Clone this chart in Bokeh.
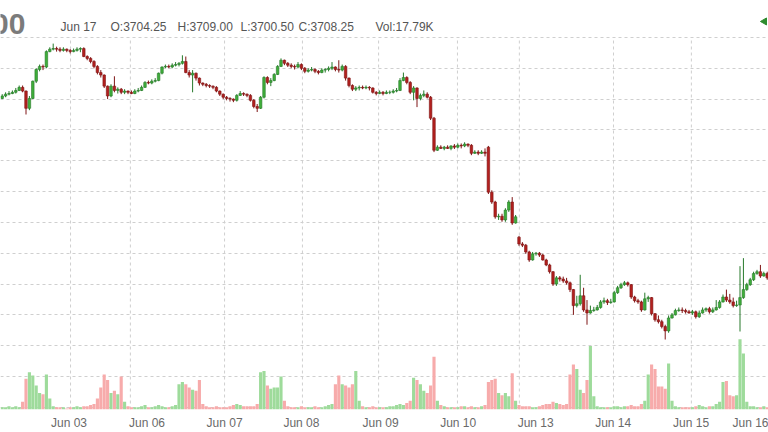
from bokeh.plotting import figure
from bokeh.models import Range1d, FixedTicker, ColumnDataSource
from bokeh.core.properties import value
from bokeh.embed import file_html
from bokeh.resources import INLINE

# Hourly OHLC bars (index = bar number)
opens = [4101, 4105, 4108, 4109, 4111, 4114, 4119, 4113, 4085, 4101,
         4129, 4148, 4153, 4152, 4177, 4181, 4182, 4181, 4179, 4181,
         4179, 4177, 4179, 4181, 4182, 4169, 4166, 4161, 4153, 4143,
         4139, 4121, 4105, 4121, 4114, 4116, 4111, 4113, 4111, 4109,
         4113, 4114, 4119, 4127, 4126, 4129, 4130, 4142, 4152, 4153,
         4152, 4155, 4156, 4158, 4161, 4143, 4139, 4142, 4134, 4126,
         4124, 4122, 4121, 4119, 4113, 4108, 4103, 4101, 4100, 4098,
         4106, 4109, 4108, 4106, 4098, 4088, 4085, 4103, 4135, 4127,
         4130, 4140, 4153, 4163, 4158, 4155, 4153, 4152, 4156, 4150,
         4145, 4147, 4148, 4145, 4143, 4147, 4148, 4150, 4152, 4148,
         4147, 4153, 4134, 4122, 4116, 4118, 4119, 4118, 4119, 4118,
         4111, 4109, 4111, 4109, 4111, 4111, 4113, 4114, 4130, 4135,
         4127, 4111, 4118, 4101, 4106, 4108, 4103, 4069, 4017, 4022,
         4020, 4022, 4020, 4024, 4022, 4025, 4024, 4027, 4025, 4012,
         4014, 4012, 4014, 4022, 3949, 3933, 3909, 3910, 3904, 3920,
         3933, 3899, 3876, 3865, 3863, 3852, 3839, 3849, 3850, 3847,
         3839, 3831, 3820, 3800, 3810, 3808, 3805, 3802, 3791, 3765,
         3768, 3781, 3758, 3753, 3757, 3758, 3762, 3771, 3773, 3770,
         3771, 3786, 3794, 3799, 3802, 3799, 3779, 3773, 3771, 3758,
         3776, 3778, 3752, 3742, 3739, 3731, 3724, 3745, 3750, 3757,
         3758, 3757, 3755, 3753, 3755, 3747, 3753, 3758, 3760, 3755,
         3758, 3762, 3771, 3779, 3774, 3771, 3765, 3766, 3778, 3791,
         3799, 3807, 3817, 3820, 3813, 3817]

highs = [4108, 4111, 4113, 4114, 4118, 4122, 4122, 4114, 4105, 4130,
         4150, 4156, 4156, 4179, 4184, 4190, 4185, 4184, 4184, 4182,
         4181, 4182, 4184, 4184, 4184, 4171, 4168, 4163, 4155, 4147,
         4140, 4122, 4124, 4137, 4119, 4118, 4116, 4114, 4114, 4116,
         4118, 4122, 4129, 4130, 4132, 4134, 4143, 4153, 4156, 4156,
         4158, 4160, 4160, 4171, 4169, 4147, 4147, 4143, 4135, 4127,
         4126, 4124, 4122, 4121, 4114, 4109, 4105, 4103, 4101, 4108,
         4113, 4111, 4109, 4108, 4100, 4092, 4105, 4137, 4137, 4134,
         4142, 4155, 4166, 4164, 4160, 4158, 4156, 4160, 4158, 4152,
         4150, 4152, 4150, 4147, 4150, 4150, 4153, 4160, 4153, 4163,
         4156, 4155, 4135, 4124, 4121, 4122, 4122, 4122, 4121, 4119,
         4113, 4114, 4113, 4114, 4114, 4116, 4118, 4134, 4143, 4137,
         4129, 4121, 4119, 4109, 4114, 4111, 4105, 4071, 4025, 4025,
         4024, 4025, 4025, 4027, 4028, 4028, 4030, 4028, 4027, 4017,
         4017, 4017, 4020, 4024, 3952, 3935, 3914, 3914, 3923, 3936,
         3941, 3912, 3878, 3868, 3865, 3854, 3852, 3852, 3852, 3849,
         3841, 3833, 3821, 3813, 3813, 3812, 3810, 3804, 3792, 3781,
         3815, 3794, 3774, 3765, 3763, 3766, 3774, 3778, 3776, 3776,
         3789, 3797, 3802, 3805, 3804, 3800, 3781, 3776, 3773, 3786,
         3781, 3779, 3753, 3749, 3742, 3734, 3749, 3753, 3760, 3762,
         3762, 3760, 3758, 3758, 3757, 3757, 3762, 3762, 3763, 3762,
         3774, 3774, 3783, 3791, 3784, 3778, 3773, 3829, 3842, 3802,
         3810, 3820, 3823, 3831, 3820, 3820]

lows = [4100, 4103, 4106, 4108, 4109, 4113, 4111, 4075, 4082, 4100,
        4126, 4145, 4147, 4150, 4176, 4179, 4177, 4176, 4177, 4176,
        4174, 4176, 4177, 4176, 4168, 4163, 4158, 4150, 4140, 4135,
        4118, 4100, 4103, 4111, 4109, 4108, 4108, 4108, 4108, 4108,
        4111, 4113, 4118, 4124, 4124, 4127, 4129, 4140, 4150, 4150,
        4150, 4153, 4153, 4156, 4142, 4135, 4111, 4130, 4122, 4121,
        4119, 4118, 4116, 4111, 4105, 4100, 4098, 4096, 4095, 4096,
        4105, 4105, 4103, 4096, 4085, 4079, 4084, 4101, 4124, 4121,
        4129, 4139, 4152, 4155, 4152, 4150, 4148, 4150, 4147, 4142,
        4143, 4145, 4142, 4140, 4142, 4143, 4145, 4147, 4145, 4143,
        4145, 4130, 4119, 4113, 4113, 4114, 4116, 4116, 4114, 4109,
        4106, 4108, 4106, 4108, 4108, 4109, 4111, 4113, 4129, 4124,
        4108, 4098, 4087, 4098, 4103, 4101, 4066, 4014, 4016, 4019,
        4017, 4019, 4017, 4019, 4020, 4020, 4022, 4022, 4009, 4011,
        4009, 4011, 4007, 3946, 3930, 3906, 3904, 3901, 3901, 3917,
        3896, 3898, 3862, 3860, 3849, 3836, 3838, 3846, 3844, 3838,
        3829, 3817, 3797, 3797, 3804, 3802, 3799, 3787, 3750, 3762,
        3765, 3755, 3734, 3752, 3755, 3757, 3760, 3768, 3766, 3768,
        3770, 3784, 3792, 3797, 3796, 3776, 3770, 3768, 3755, 3757,
        3771, 3749, 3739, 3736, 3728, 3710, 3721, 3744, 3749, 3755,
        3753, 3752, 3752, 3750, 3744, 3745, 3752, 3755, 3752, 3753,
        3757, 3760, 3770, 3771, 3768, 3762, 3763, 3723, 3776, 3789,
        3797, 3805, 3815, 3810, 3812, 3807]

closes = [4105, 4108, 4109, 4111, 4114, 4119, 4113, 4085, 4101, 4129,
          4148, 4153, 4152, 4177, 4181, 4182, 4181, 4179, 4181, 4179,
          4177, 4179, 4181, 4182, 4169, 4166, 4161, 4153, 4143, 4139,
          4121, 4105, 4121, 4114, 4116, 4111, 4113, 4111, 4109, 4113,
          4114, 4119, 4127, 4126, 4129, 4130, 4142, 4152, 4153, 4152,
          4155, 4156, 4158, 4161, 4143, 4139, 4142, 4134, 4126, 4124,
          4122, 4121, 4119, 4113, 4108, 4103, 4101, 4100, 4098, 4106,
          4109, 4108, 4106, 4098, 4088, 4085, 4103, 4135, 4127, 4130,
          4140, 4153, 4163, 4158, 4155, 4153, 4152, 4156, 4150, 4145,
          4147, 4148, 4145, 4143, 4147, 4148, 4150, 4152, 4148, 4147,
          4153, 4134, 4122, 4116, 4118, 4119, 4118, 4119, 4118, 4111,
          4109, 4111, 4109, 4111, 4111, 4113, 4114, 4130, 4135, 4127,
          4111, 4118, 4101, 4106, 4108, 4103, 4069, 4017, 4022, 4020,
          4022, 4020, 4024, 4022, 4025, 4024, 4027, 4025, 4012, 4014,
          4012, 4014, 4012, 3949, 3933, 3909, 3910, 3904, 3920, 3933,
          3899, 3909, 3865, 3863, 3852, 3839, 3849, 3850, 3847, 3839,
          3831, 3820, 3800, 3810, 3808, 3805, 3802, 3791, 3765, 3768,
          3781, 3758, 3753, 3757, 3758, 3762, 3771, 3773, 3770, 3771,
          3786, 3794, 3799, 3802, 3799, 3779, 3773, 3771, 3758, 3776,
          3778, 3752, 3742, 3739, 3731, 3724, 3745, 3750, 3757, 3758,
          3757, 3755, 3753, 3755, 3747, 3753, 3758, 3760, 3755, 3758,
          3762, 3771, 3779, 3774, 3771, 3765, 3766, 3778, 3791, 3799,
          3807, 3817, 3820, 3813, 3817, 3810]

# volume per bar, thousands of contracts
volumes = [12, 12, 18, 12, 18, 12, 42, 168, 204, 186,
           132, 90, 84, 192, 60, 18, 12, 12, 12, 6,
           12, 12, 18, 12, 18, 18, 24, 30, 60, 120,
           192, 162, 90, 102, 84, 180, 42, 18, 12, 12,
           12, 18, 24, 12, 12, 18, 24, 18, 12, 12,
           18, 24, 138, 150, 138, 120, 108, 102, 162, 30,
           18, 12, 12, 18, 12, 12, 12, 18, 24, 30,
           24, 18, 18, 18, 18, 30, 204, 210, 132, 114,
           120, 120, 180, 48, 18, 12, 12, 12, 18, 12,
           12, 12, 18, 12, 12, 18, 24, 30, 138, 186,
           138, 132, 120, 138, 210, 48, 18, 12, 12, 18,
           12, 12, 12, 12, 18, 18, 24, 30, 24, 36,
           48, 174, 162, 138, 102, 90, 132, 288, 48, 24,
           18, 12, 12, 12, 12, 18, 18, 12, 18, 12,
           12, 18, 24, 150, 162, 168, 90, 78, 90, 72,
           198, 48, 24, 18, 18, 18, 12, 12, 18, 24,
           30, 30, 42, 36, 30, 24, 30, 192, 246, 222,
           108, 90, 162, 348, 72, 18, 12, 12, 12, 12,
           18, 18, 12, 18, 18, 24, 18, 18, 30, 48,
           192, 246, 222, 126, 126, 114, 252, 48, 18, 12,
           12, 12, 12, 12, 18, 24, 18, 12, 18, 18,
           30, 42, 150, 156, 78, 72, 78, 384, 306, 42,
           18, 18, 12, 12, 18, 12]

# x-axis day labels (bar index of midnight) and session separators
tick_positions = [19.65, 42.6, 65.4, 88.0, 111.3, 134.1, 156.9, 179.7, 202.6, 224.8]
tick_labels = ["Jun 03", "Jun 06", "Jun 07", "Jun 08", "Jun 09",
               "Jun 10", "Jun 13", "Jun 14", "Jun 15", "Jun 16"]
session_lines = [20.1, 37.7, 65.4, 88.3, 110.7, 133.9, 152.1, 179.8, 202.7]
price_grid = [3600, 3650, 3700, 3750, 3800, 3850, 3900, 3950,
              4000, 4050, 4100, 4150, 4200]

# header line (last bar info)
header_big = "00"
header_texts = ["Jun 17", "O:3704.25", "H:3709.00", "L:3700.50", "C:3708.25", "Vol:17.79K"]
header_x = [17.15, 31.85, 51.56, 70.09, 87.15, 109.8]   # left edges, bar-index units
header_y = 4216.7                                        # baseline, price units
big_x, big_y = 6.85, 4222.2
last_marker_x, last_marker_y = 224.2, 4225.9

Y0, Y1 = 3596.5, 4259.9

n = len(closes)
up = [c >= o for o, c in zip(opens, closes)]
src = ColumnDataSource(dict(
    x=list(range(n)), h=highs, l=lows,
    top=[max(o, c) for o, c in zip(opens, closes)],
    bot=[min(o, c) for o, c in zip(opens, closes)],
    body=["#3fae3a" if u else "#b3201e" for u in up],
    edge=["#26792a" if u else "#7e1414" for u in up],
    vol=volumes,
    vcol=["#9edb9b" if u else "#f7abab" for u in up],
))

p = figure(width=768, height=432, output_backend="svg", toolbar_location=None,
           x_range=Range1d(-0.5, 225.38), y_range=Range1d(Y0, Y1),
           y_axis_location=None,
           min_border_left=0, min_border_right=0, min_border_top=0, min_border_bottom=22)
p.extra_y_ranges = {"vol": Range1d(0, 2238)}
p.outline_line_color = None
p.background_fill_color = "white"

ax = p.xaxis[0]
ax.ticker = FixedTicker(ticks=tick_positions)
ax.major_label_overrides = {t: s for t, s in zip(tick_positions, tick_labels)}
ax.axis_line_color = None
ax.major_tick_line_color = None
ax.minor_tick_line_color = None
ax.major_tick_out = 0
ax.major_tick_in = 0
ax.major_label_standoff = 6
ax.major_label_text_font = "Liberation Sans"
ax.major_label_text_font_size = "12px"
ax.major_label_text_color = "#6a6a6a"

p.xgrid.visible = False
p.ygrid.ticker = FixedTicker(ticks=price_grid)
p.ygrid.grid_line_color = "#cfcfcf"
p.ygrid.grid_line_dash = "3 3"

# session separators (dashed, from the bottom up to the top price gridline)
p.segment(x0=session_lines, y0=[Y0] * len(session_lines),
          x1=session_lines, y1=[max(price_grid)] * len(session_lines),
          line_color="#cfcfcf", line_dash="3 3", line_width=1)

p.vbar(x="x", width=0.92, top="vol", bottom=0, fill_color="vcol", line_color=None,
       y_range_name="vol", source=src)
p.segment(x0="x", y0="h", x1="x", y1="l", line_color="edge", line_width=1, source=src)
p.vbar(x="x", width=0.75, top="top", bottom="bot", fill_color="body",
       line_color="edge", line_width=0.6, source=src)

font = value("Liberation Sans")
p.text(x=[big_x], y=[big_y], text=[header_big], text_align="right",
       text_baseline="alphabetic", text_font=font, text_font_size=value("30px"),
       text_font_style="bold", text_color="#7b7b7b")
p.text(x=header_x, y=[header_y] * len(header_x), text=header_texts,
       text_baseline="alphabetic", text_font=font, text_font_size=value("12px"),
       text_color="#555555")
p.scatter(x=[last_marker_x], y=[last_marker_y], marker="triangle", angle=1.5708,
          size=7, fill_color="#2e8b2e", line_color="#2e8b2e")

open("out.html", "w").write(file_html(p, INLINE))
